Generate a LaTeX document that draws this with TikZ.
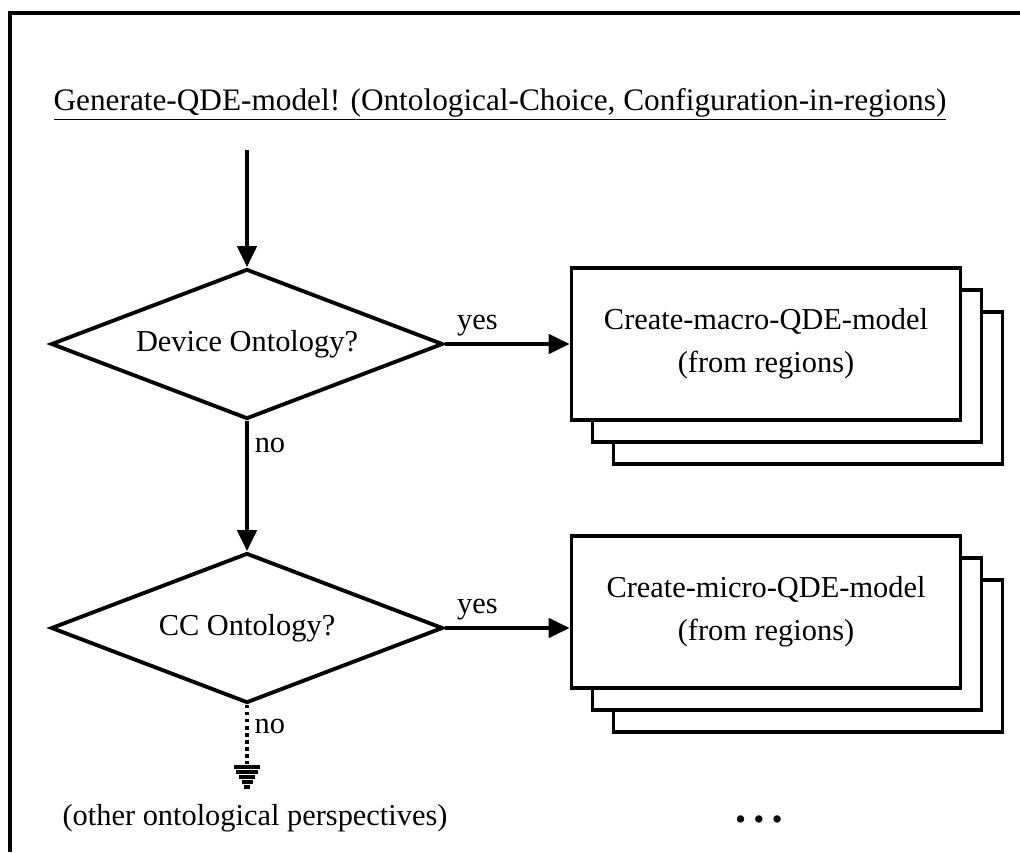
\documentclass[tikz,border=0pt]{standalone}
\usepackage{fontspec}
\setmainfont{Liberation Serif}
\usetikzlibrary{positioning, arrows.meta, shapes.geometric, shadows}

\begin{document}
\begin{tikzpicture}[x=0.02cm, y=-0.02cm, >={Triangle[length=12pt,width=11pt]}, line width=2.2pt,
  every node/.style={font=\fontsize{17.3}{24.4}\selectfont},
  decision/.style={diamond, draw, aspect=2.6, inner sep=0pt, minimum width=7.84cm, minimum height=3.0cm},
  stackbox/.style={rectangle, draw, fill=white, align=center,
    minimum width=7.78cm, minimum height=3.04cm,
    copy shadow={shadow xshift=0.84cm, shadow yshift=-0.88cm},
    copy shadow={shadow xshift=0.42cm, shadow yshift=-0.44cm}}]

\useasboundingbox (0,0) rectangle (1020,852);

% ---------- frame (top and left edges) ----------
\draw (10,852) -- (10,13) -- (1020,13);

% ---------- title ----------
\node[anchor=base, font=\fontsize{17.8}{22}\selectfont] (title) at (500,110)
  {\underline{Generate-QDE-model! (Ontological-Choice, Configuration-in-regions)}};

% ---------- decisions ----------
\node[decision] (dev) at (247,344) {Device Ontology?};
\node[decision] (cc)  at (247,628) {CC Ontology?};

% ---------- stacked model boxes ----------
\node[stackbox] (macro) at (766,344) {Create-macro-QDE-model\\(from regions)};
\node[stackbox] (micro) at (766,612) {Create-micro-QDE-model\\(from regions)};

% ---------- flow ----------
\coordinate (start) at (247,150); % entry
\coordinate (gnd)   at (247,764); % end of dotted branch

\draw[->] (start) -- (dev.north);
\draw[->] (dev.east) -- node[above, pos=0.26]{yes} (dev.east -| macro.west);
\draw[->] (dev.south) -- node[right, pos=0.19]{no} (cc.north);
\draw[->] (cc.east) -- node[above, pos=0.26]{yes} (cc.east -| micro.west);
\draw[dotted, line width=2pt] (cc.south) -- node[right, pos=0.37]{no} (gnd);

% ---------- ground mark ----------
\foreach \w [count=\i] in {13,11,8,5.5,3}
  \draw[line width=2pt] ([shift={(-\w,5*\i-2)}]gnd) -- ([shift={(\w,5*\i-2)}]gnd);

% ---------- bottom texts ----------
\node (other) at (255,818) {(other ontological perspectives)};
\node (more)  at (759,823) {\textbullet\ \textbullet\ \textbullet};

\end{tikzpicture}
\end{document}
